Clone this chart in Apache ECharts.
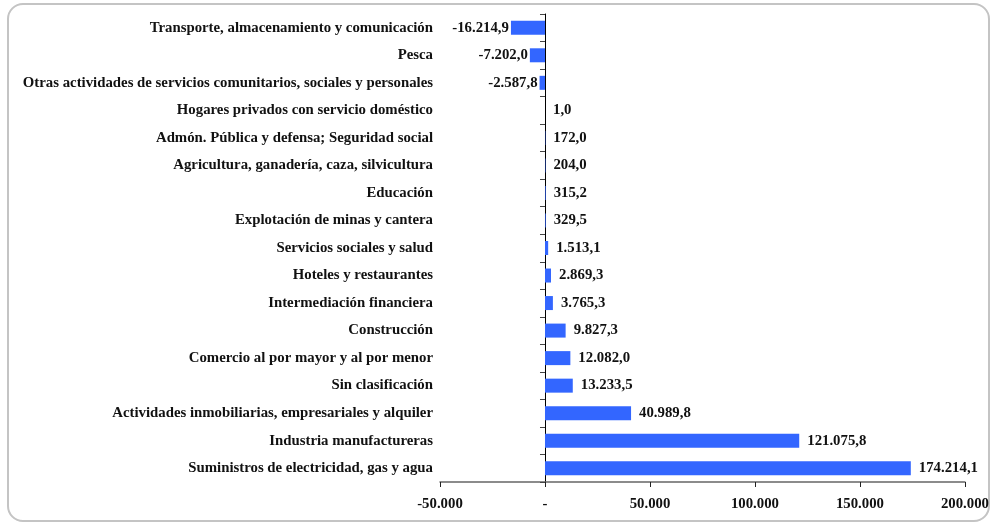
<!DOCTYPE html>
<html>
<head>
<meta charset="utf-8">
<script src="https://cdn.jsdelivr.net/npm/echarts@6/dist/echarts.min.js"></script>
<style>
	html, body { margin: 0; padding: 0; background: #fff; }
	#chart { width: 992px; height: 527px; }
</style>
</head>
<body>
<div id="chart"></div>
<script>
// categorias, de arriba hacia abajo
const categories = [
	'Transporte, almacenamiento y comunicación',
	'Pesca',
	'Otras actividades de servicios comunitarios, sociales y personales',
	'Hogares privados con servicio doméstico',
	'Admón. Pública y defensa; Seguridad social',
	'Agricultura, ganadería, caza, silvicultura',
	'Educación',
	'Explotación de minas y cantera',
	'Servicios sociales y salud',
	'Hoteles y restaurantes',
	'Intermediación financiera',
	'Construcción',
	'Comercio al por mayor y al por menor',
	'Sin clasificación',
	'Actividades inmobiliarias, empresariales y alquiler',
	'Industria manufactureras',
	'Suministros de electricidad, gas y agua',
];
const values = [
	-16214.9, -7202.0, -2587.8, 1.0, 172.0, 204.0, 315.2, 329.5,
	1513.1, 2869.3, 3765.3, 9827.3, 12082.0, 13233.5, 40989.8, 121075.8, 174214.1,
];
const xTicks = [-50000, 0, 50000, 100000, 150000, 200000];

const FONT = '"Liberation Serif", "DejaVu Serif", serif';
const FS = 14.8;

// formato 12.345,6
const fmt = (v, dec) => {
	const s = Math.abs(v).toFixed(dec);
	const [ent, frac] = s.split('.');
	const withDots = ent.replace(/\B(?=(\d{3})+(?!\d))/g, '.');
	return (v < 0 ? '-' : '') + withDots + (frac !== undefined ? ',' + frac : '');
};

const chart = echarts.init(document.getElementById('chart'), null, { renderer: 'canvas' });

const option = {
	animation: false,
	graphic: [
		{
			type: 'rect',
			shape: { x: 8, y: 4, width: 981, height: 517, r: 15 },
			style: { fill: 'none', stroke: '#c4c4c4', lineWidth: 2 },
			silent: true,
		},
	],
	grid: {
		left: 440,
		right: 25,
		top: 14,
		bottom: 45,
		containLabel: false,
	},
	xAxis: {
		type: 'value',
		min: xTicks[0],
		max: xTicks[xTicks.length - 1],
		interval: 50000,
		splitLine: { show: false },
		axisLine: { show: true, onZero: false, lineStyle: { color: '#666', width: 1.5 } },
		axisTick: { show: true, length: 5, lineStyle: { color: '#222' } },
		axisLabel: {
			margin: 15,
			color: '#111',
			fontFamily: FONT,
			fontWeight: 'bold',
			fontSize: FS,
			formatter: (v) => (v === 0 ? '-' : fmt(v, 0)),
		},
	},
	yAxis: [
		{
			type: 'category',
			data: categories,
			inverse: true,
			position: 'left',
			axisLine: { show: false, onZero: false },
			axisTick: { show: false },
			axisLabel: {
				margin: 7,
				color: '#111',
				fontFamily: FONT,
				fontWeight: 'bold',
				fontSize: FS,
			},
		},
		{
			type: 'category',
			data: categories,
			inverse: true,
			position: 'left',
			axisLine: { show: true, onZero: true, lineStyle: { color: '#000', width: 1 } },
			axisTick: { show: true, length: 5, lineStyle: { color: '#444' } },
			axisLabel: { show: false },
		},
	],
	series: [
		{
			type: 'bar',
			yAxisIndex: 0,
			data: values.map((v) => ({
				value: v,
				label: { position: v < 0 ? 'left' : 'right', distance: v < 0 ? 2 : 8 },
			})),
			barWidth: 14,
			itemStyle: { color: '#3366ff' },
			label: {
				show: true,
				color: '#111',
				fontFamily: FONT,
				fontWeight: 'bold',
				fontSize: FS,
				formatter: (p) => fmt(p.value, 1),
			},
		},
	],
};

chart.setOption(option);
</script>
</body>
</html>
